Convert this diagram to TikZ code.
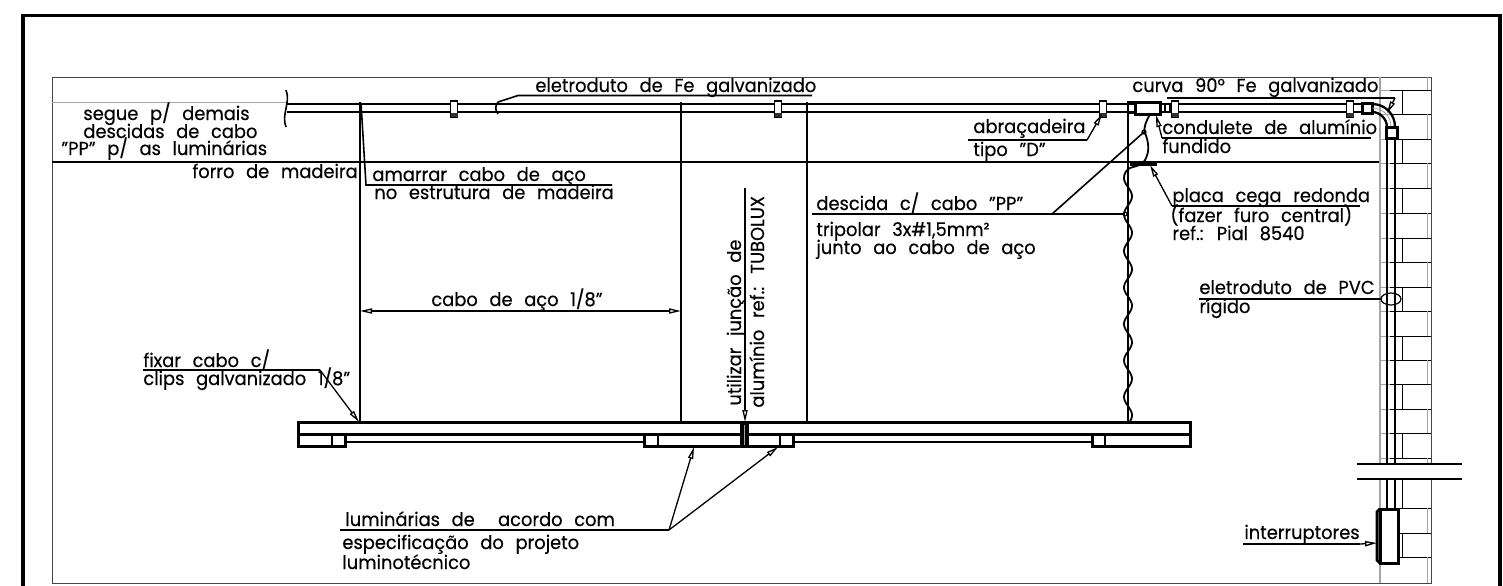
\documentclass[tikz,border=0pt]{standalone}
\usepackage{fontspec}
\setmainfont{Poppins}[FakeStretch=0.95, FakeBold=0.35]
\usetikzlibrary{arrows.meta}
\definecolor{wallgray}{RGB}{165,165,165}
\definecolor{framegray}{RGB}{70,70,70}
\tikzset{
	lbl/.style={anchor=base west, inner sep=0pt, font=\fontsize{9.4pt}{10pt}\selectfont},
	thinline/.style={line width=0.8pt},
	heavyline/.style={line width=1.5pt},
	pipeline/.style={line width=1.15pt},
	leader/.style={line width=0.65pt, -{Triangle[open,length=6pt,width=2.6pt]}}
}
\newcommand{\widesp}{\spaceskip=0.62em plus 0.1em minus 0.1em\relax}

\begin{document}
\begin{tikzpicture}[x=0.5pt, y=-0.5pt]
	\useasboundingbox (0,0) rectangle (1503,585);

	% outer frame, open at the bottom
	\draw[line width=1.6pt] (23,590) -- (23,15.5) -- (1500,15.5) -- (1500,590);

	% inner frame
	\draw[line width=0.5pt, framegray] (52,583) -- (52,77) -- (1431,77) -- (1431,583) -- cycle;

	% ceiling lines
	\draw[line width=0.5pt, wallgray] (52,102) -- (287,102);
	\draw[thinline] (52,162) -- (1380,162);

	% wall, brick courses
	\draw[line width=0.7pt, wallgray] (1380,77) -- (1380,464);
	\draw[line width=0.7pt, wallgray] (1380,479) -- (1380,583);
	\foreach \yb in {90,114,139,163,188,213,238,262,287,311,336,360,384,409,433,458,508,533,557} {
		\draw[line width=0.5pt, wallgray] (1380,\yb) -- (1390,\yb);
		\draw[line width=0.5pt] (1390,\yb) -- (1431,\yb);
	}
	\foreach \ya/\yc in {90/114,139/163,188/213,238/262,287/311,336/360,384/409,433/458,479/508,533/557} {
		\draw[line width=0.5pt] (1402,\ya) -- (1402,\yc);
	}
	\foreach \ya/\yc in {77/90,114/139,163/188,213/238,262/287,311/336,360/384,409/433,458/464,508/533,557/583} {
		\draw[line width=0.5pt, wallgray] (1427,\ya) -- (1427,\yc);
	}

	% wall break
	\fill[white] (1370,465) rectangle (1440,478);
	\draw[thinline] (1357,464) -- (1462,464);
	\draw[thinline] (1357,479) -- (1462,479);

	% main conduit
	\draw[pipeline] (287,104) -- (1135,104);
	\draw[pipeline] (287,112) -- (1135,112);
	\draw[pipeline] (1160,104) -- (1362,104);
	\draw[pipeline] (1160,112) -- (1362,112);
	\draw[thinline] (286,90) .. controls (291,102) and (281,115) .. (286,127);
	\draw[thinline] (498,102) .. controls (495,106) and (495,110) .. (498,114);

	% clamps
	\foreach \xc in {454,778,1103,1175,1350} {
		\draw[line width=0.7pt, fill=white] (\xc-3.5,101) rectangle (\xc+3.5,117);
		\fill[black!80] (\xc-3.5,113) rectangle (\xc+3.5,117);
	}

	% condulete and its stubs
	\draw[heavyline, fill=white] (1135,102) rectangle (1160,114);
	\draw[pipeline] (1128,102) rectangle (1135,113);
	\draw[thinline] (1165,103) -- (1165,113);
	\draw[thinline] (1170,103) -- (1170,113);

	% elbow and vertical conduit
	\draw[heavyline, fill=white] (1362,103) rectangle (1372,113);
	\draw[pipeline] (1372,104) .. controls (1385,104) and (1395,114) .. (1395,127);
	\draw[pipeline] (1372,112) .. controls (1380,112) and (1387,119) .. (1387,127);
	\draw[line width=0.4pt, wallgray] (1372,108) .. controls (1383,108) and (1391,116) .. (1391,127);
	\draw[heavyline, fill=white] (1386,127) rectangle (1397,138);
	\draw[pipeline] (1387,138) -- (1387,464);
	\draw[pipeline] (1395,138) -- (1395,464);
	\draw[pipeline] (1387,479) -- (1387,509);
	\draw[pipeline] (1395,479) -- (1395,509);

	% switch box
	\draw[heavyline, fill=white] (1380,509) rectangle (1398,563);
	\draw[heavyline] (1380,509) -- (1377,512) -- (1377,560) -- (1380,563);

	% steel cables
	\draw[thinline] (360,102) -- (360,422);
	\draw[thinline] (681,102) -- (681,422);
	\draw[thinline] (807,102) -- (807,422);
	\draw[thinline] (1128,102) -- (1128,422);

	% wavy PP cable
	\draw[line width=0.9pt] (1150,114) .. controls (1146,122) and (1143,128) .. (1145,133) .. controls (1148,140) and (1150,150) .. (1146,158) .. controls (1143,166) and (1135,166) .. (1130,168) .. controls (1126,170) and (1124,174) .. (1124,178);
	\draw[line width=0.9pt] plot[smooth, domain=178:422, samples=120] ({1128-4*cos(9.863*(\x-178))},\x);

	% blind plate
	\draw[line width=1.6pt] (1130,164) -- (1157,164);

	% luminaire
	\draw[heavyline] (298,422) rectangle (1190,434);
	\draw[thinline] (345,442) -- (644,442);
	\draw[thinline] (793,442) -- (1092,442);
	\draw[heavyline] (298,434) -- (298,446) -- (345,446) -- (345,434);
	\draw[heavyline] (644,434) -- (644,446) -- (793,446) -- (793,434);
	\draw[heavyline] (1092,434) -- (1092,446) -- (1190,446) -- (1190,434);
	\draw[thinline] (332,434) -- (332,446);
	\draw[thinline] (658,434) -- (658,446);
	\draw[thinline] (780,434) -- (780,446);
	\draw[thinline] (1105,434) -- (1105,446);
	\fill[black] (740,421) rectangle (749,448);
	\fill[wallgray] (744,425) rectangle (745,445);

	% top left labels
	\node[lbl] (seguedemais) at (83,120) {\widesp segue p/ demais};
	\node[lbl] (descidascabo) at (83,138) {\widesp descidas de cabo};
	\node[lbl] (ppluminarias) at (61,155) {\widesp "PP" p/ as luminárias};
	\node[lbl] (forro) at (192,178) {\widesp forro de madeira};

	% conduit callouts
	\node[lbl] (eletroFe) at (535,92) {\widesp eletroduto de Fe galvanizado};
	\draw[thinline] (812,95.5) -- (518,95.5) -- (498,102);
	\node[lbl] (curva) at (1132,92) {\widesp curva 90° Fe galvanizado};
	\draw[thinline] (1167,98) -- (1395,98);
	\draw[leader] (1395,98) -- (1387,113);

	% steel cable callouts
	\node[lbl] (amarrar) at (372,181) {\widesp amarrar cabo de aço};
	\node[lbl] (estrutura) at (374,199) {\widesp no estrutura de madeira};
	\draw[thinline] (612,185) -- (366,185) -- (361,103);
	\node[lbl] (caboaco) at (431,306) {\widesp cabo de aço 1/8"};
	\draw[leader] (500,311) -- (360,311);
	\draw[leader] (500,311) -- (681,311);
	\node[lbl] (fixar) at (143,367) {\widesp fixar cabo c/};
	\node[lbl] (clips) at (143,385) {\widesp clips galvanizado 1/8"};
	\draw[thinline] (143,370) -- (320,370);
	\draw[leader] (320,370) -- (359,422);

	% junction callout
	\node[lbl, rotate=90] (utilizar) at (741,406) {\widesp utilizar junção de};
	\node[lbl, rotate=90] (aluminio) at (764,408) {\widesp alumínio ref.: TUBOLUX};
	\draw[thinline] (745,188) -- (745,400);
	\draw[leader] (745,400) -- (745,422);

	% luminaire callout
	\node[lbl] (luminarias) at (345,526) {\widesp luminárias de \ acordo com};
	\node[lbl] (especificacao) at (342,549) {\widesp especificação do projeto};
	\node[lbl] (luminotecnico) at (342,569) {\widesp luminotécnico};
	\draw[thinline] (340,530) -- (669,530);
	\draw[leader] (669,530) -- (694,447);
	\draw[leader] (669,530) -- (778,447);

	% descent callout
	\node[lbl] (descida) at (816,210) {\widesp descida c/ cabo "PP"};
	\node[lbl] (tripolar) at (816,236) {\widesp tripolar 3x\#1,5mm²};
	\node[lbl] (junto) at (816,254) {\widesp junto ao cabo de aço};
	\draw[thinline] (812,214) -- (1125,214);
	\draw[thinline] (1052,214) -- (1144,132);
	\draw[line width=0.6pt] (1144,132) circle (2);
	\draw[line width=0.6pt] (1125,214) circle (2);

	% fittings callouts
	\node[lbl] (abracadeira) at (973,133) {\widesp abraçadeira};
	\node[lbl] (tipoD) at (973,156) {\widesp tipo "D"};
	\draw[thinline] (968,140) -- (1087,140);
	\draw[leader] (1087,140) -- (1102,114);
	\node[lbl] (condulete) at (1162,134) {\widesp condulete de alumínio};
	\node[lbl] (fundido) at (1162,153) {\widesp fundido};
	\draw[thinline] (1371,138) -- (1162,138);
	\draw[leader] (1162,138) -- (1156,115);

	% plate callout
	\node[lbl] (placa) at (1172,202) {\widesp placa cega redonda};
	\node[lbl] (furo) at (1170,222) {\widesp (fazer furo central)};
	\node[lbl] (pial) at (1172,240) {\widesp ref.: Pial 8540};
	\draw[thinline] (1360,206) -- (1172,206);
	\draw[leader] (1172,206) -- (1150,165);

	% PVC conduit callout
	\node[lbl] (eletroPVC) at (1199,294) {\widesp eletroduto de PVC};
	\node[lbl] (rigido) at (1199,313) {\widesp rígido};
	\draw[thinline] (1199,299) -- (1381,299);
	\draw[line width=0.6pt] (1391,299) ellipse (10 and 6);

	% switch callout
	\node[lbl] (interruptores) at (1244,539) {\widesp interruptores};
	\draw[thinline] (1243,544) -- (1360,544);
	\draw[leader] (1360,544) -- (1377,543);

\end{tikzpicture}
\end{document}
